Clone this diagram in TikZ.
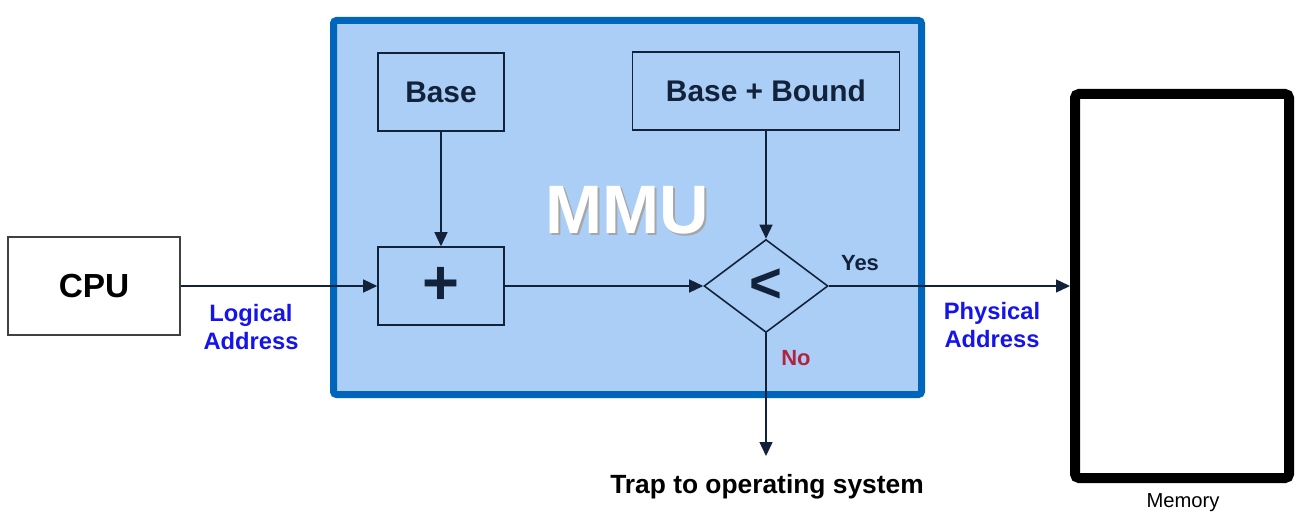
\documentclass[tikz,border=0pt]{standalone}
\usepackage{fontspec}
\setmainfont{Liberation Sans}
\usetikzlibrary{shapes.geometric,arrows.meta}
\definecolor{mmublue}{RGB}{0,102,187}
\definecolor{mmufill}{RGB}{170,206,245}
\definecolor{navy}{RGB}{18,34,58}
\definecolor{addrblue}{RGB}{20,20,235}
\definecolor{nored}{RGB}{176,36,64}
\begin{document}
\begin{tikzpicture}[x=0.2mm,y=-0.2mm,
  blk/.style={draw=navy,line width=0.9pt,minimum width=25.2mm,minimum height=15.6mm,inner sep=0pt,text=navy,font=\bfseries\fontsize{17}{20}\selectfont},
  link/.style={draw=navy,line width=0.8pt,-{Triangle[length=2.8mm,width=2.6mm]}},
  addr/.style={text=addrblue,font=\bfseries\fontsize{13.5}{16}\selectfont,align=center},
  tag/.style={font=\bfseries\fontsize{12.5}{15}\selectfont}]
\useasboundingbox (0,0) rectangle (1305,532);
\draw[draw=mmublue,fill=mmufill,line width=1.4mm,rounded corners=0.6mm] (333.5,20.5) rectangle (921.5,394.5);
\node[blk,draw=black!75,fill=white,text=black,minimum width=34.4mm,minimum height=19.6mm,font=\bfseries\fontsize{19}{22}\selectfont] (cpu) at (94,286) {CPU};
\node[blk] (base) at (441,92) {Base};
\node[blk,font=\bfseries\fontsize{36}{40}\selectfont] (plus) at (441,286) {\raisebox{-0.6mm}{+}};
\node[blk,minimum width=53.4mm] (bb) at (766,91) {Base + Bound};
\node[diamond,draw=navy,line width=0.9pt,minimum width=24.8mm,minimum height=18.6mm,inner sep=0pt,text=navy,font=\bfseries\fontsize{32}{36}\selectfont] (cmp) at (766,286) {\raisebox{-0.6mm}{<}};
\node[draw=black,line width=2mm,rounded corners=0.8mm,minimum width=42.8mm,minimum height=76.8mm] (mem) at (1182,286) {};
\node[text=black!35,font=\bfseries\fontsize{39}{44}\selectfont] (mmushadow) at (629.5,212.5) {MMU};
\node[text=white,font=\bfseries\fontsize{39}{44}\selectfont] (mmulabel) at (627,210) {MMU};
\coordinate (trapend) at (766,456);
\draw[link] (cpu.east) -- (plus.west);
\draw[link] (base) -- (plus);
\draw[link] (bb) -- (cmp);
\draw[link] (plus) -- (cmp);
\draw[link] (cmp) -- (mem);
\draw[link] (cmp.south) -- (trapend);
\node[addr] (logical) at (251,327) {Logical\\Address};
\node[addr] (physical) at (992,325) {Physical\\Address};
\node[tag,text=navy] (yes) at (860,263) {Yes};
\node[tag,text=nored] (no) at (796,358) {No};
\node[font=\bfseries\fontsize{15}{18}\selectfont] (trap) at (767,487) {Trap to operating system};
\node[font=\fontsize{11.5}{13}\selectfont] (memlabel) at (1183,503) {Memory};
\end{tikzpicture}
\end{document}
